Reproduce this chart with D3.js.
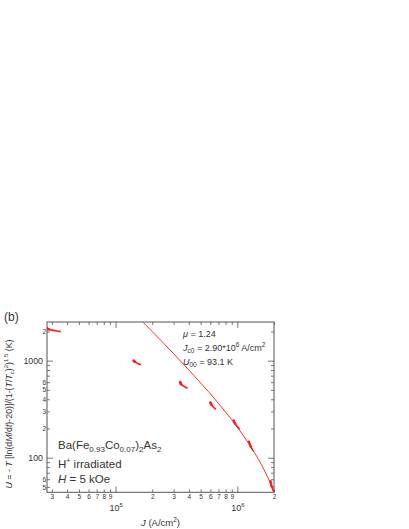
<!DOCTYPE html>
<html><head><meta charset="utf-8">
<script src="https://cdn.jsdelivr.net/npm/d3@7"></script>
<style>
body{margin:0;background:#fff}
svg{display:block}
text{font-family:"Liberation Sans",Arial,Helvetica,sans-serif;fill:#333}
</style>
</head><body>
<svg id="c" width="409" height="529"></svg>
<script>
// ---- data (J in A/cm^2, U in K), one short relaxation set per temperature ----
const set1 = [[27400,2150],[27700,2120],[28300,2100],[29500,2075],[31000,2050],[33000,2020],[35500,1990]];
const set2 = [[141000,1000],[142500,985],[144000,975],[147000,960],[151000,940],[156000,925],[162000,905]];
const set3 = [[340000,600],[342000,585],[345000,572],[350000,562],[358000,550],[370000,538],[390000,520]];
const set4 = [[600000,370],[606000,360],[614000,350],[625000,340],[638000,330],[652000,322],[664000,315]];
const set5 = [[933000,242],[945000,232],[960000,224],[975000,218],[995000,210],[1020000,203],[1045000,196]];
const set6 = [[1245000,146],[1265000,138],[1285000,131],[1305000,126],[1330000,121],[1360000,117]];
const set7 = [[1870000,57],[1890000,54],[1910000,51],[1930000,49],[1955000,47],[1985000,45]];
const sets = [set1,set2,set3,set4,set5,set6,set7];

// fit curve
const fitJ = [165000,170000,200000,250000,300000,400000,500000,600000,700000,800000,1000000,1200000,1400000,1600000,1800000,2000000];
const fitU = [2553,2455,1993,1493,1176,800,589,455,362,296,206,149,110,82,60.5,44];

// ticks and labels
const xMinorTicks  = [3e4,4e4,5e4,6e4,7e4,8e4,9e4,2e5,3e5,4e5,5e5,6e5,7e5,8e5,9e5,2e6];
const xMinorLabels = ["3","4","5","6","7","8","9","2","3","4","5","6","7","8","9","2"];
const xMajorTicks  = [1e5,1e6];
const xMajorExp    = ["5","6"];
const yMinorTicks  = [50,60,70,80,90,200,300,400,500,600,700,800,900,2000];
const yMinorLabels = ["5","6","","","","2","3","4","5","6","","","","2"];
const yMajorTicks  = [100,1000];
const yMajorLabels = ["100","1000"];

// ---- layout ----
const L = 47, R = 274, T = 322, B = 492.3;
const svg = d3.select("#c");
const x = d3.scaleLog().domain([27350, 2e6]).range([L, R]);
const y = d3.scaleLog().domain([44, 2500]).range([B, T]);
const axisCol = "#555";

svg.append("defs").append("clipPath").attr("id","clip")
  .append("rect").attr("x",L).attr("y",T).attr("width",R-L).attr("height",B-T);

function styleAxis(g, fs){
  g.select(".domain").remove();
  g.selectAll(".tick line").attr("stroke", axisCol).attr("stroke-width",0.8);
  g.selectAll("text").attr("font-size", fs).attr("font-family","Liberation Sans, Arial, sans-serif").attr("fill","#333");
}

// bottom
const gb = svg.append("g").attr("transform",`translate(0,${B})`)
  .call(d3.axisBottom(x).tickValues(xMinorTicks).tickSizeInner(-3).tickSizeOuter(0).tickPadding(2)
    .tickFormat((d,i)=>xMinorLabels[i]));
styleAxis(gb, 6.5);
const gb2 = svg.append("g").attr("transform",`translate(0,${B})`)
  .call(d3.axisBottom(x).tickValues(xMajorTicks).tickSizeInner(-6).tickSizeOuter(0).tickFormat(""));
styleAxis(gb2, 6.5);
xMajorTicks.forEach((v,i)=>{
  const t = svg.append("text").attr("x", x(v)-6).attr("y", 511).attr("font-size",9);
  t.append("tspan").text("10");
  t.append("tspan").attr("dy",-4).attr("font-size",6).text(xMajorExp[i]);
});

// top
const gt = svg.append("g").attr("transform",`translate(0,${T})`)
  .call(d3.axisTop(x).tickValues(xMinorTicks).tickSizeInner(-3).tickSizeOuter(0).tickFormat(""));
styleAxis(gt, 6);
const gt2 = svg.append("g").attr("transform",`translate(0,${T})`)
  .call(d3.axisTop(x).tickValues(xMajorTicks).tickSizeInner(-6).tickSizeOuter(0).tickFormat(""));
styleAxis(gt2, 6);

// left
const gl = svg.append("g").attr("transform",`translate(${L},0)`)
  .call(d3.axisLeft(y).tickValues(yMinorTicks).tickSizeInner(-3).tickSizeOuter(0).tickPadding(1)
    .tickFormat((d,i)=>yMinorLabels[i]));
styleAxis(gl, 6.5);
const gl2 = svg.append("g").attr("transform",`translate(${L},0)`)
  .call(d3.axisLeft(y).tickValues(yMajorTicks).tickSizeInner(-6).tickSizeOuter(0).tickPadding(4)
    .tickFormat((d,i)=>yMajorLabels[i]));
styleAxis(gl2, 8.8);

// right
const gr = svg.append("g").attr("transform",`translate(${R},0)`)
  .call(d3.axisRight(y).tickValues(yMinorTicks).tickSizeInner(-3).tickSizeOuter(0).tickFormat(""));
styleAxis(gr, 6);
const gr2 = svg.append("g").attr("transform",`translate(${R},0)`)
  .call(d3.axisRight(y).tickValues(yMajorTicks).tickSizeInner(-6).tickSizeOuter(0).tickFormat(""));
styleAxis(gr2, 6);

// frame
svg.append("rect").attr("x",L).attr("y",T).attr("width",R-L).attr("height",B-T)
  .attr("fill","none").attr("stroke",axisCol).attr("stroke-width",1);

// data
const plot = svg.append("g").attr("clip-path","url(#clip)");
const fitPts = fitJ.map((j,i)=>[j,fitU[i]]);
plot.append("path").datum(fitPts)
  .attr("d", d3.line().x(d=>x(d[0])).y(d=>y(d[1])).curve(d3.curveMonotoneX))
  .attr("fill","none").attr("stroke","#ff3030").attr("stroke-width",1);

const red = "#ff1a1a";
sets.forEach(s=>{
  plot.append("path").datum(s)
    .attr("d", d3.line().x(d=>x(d[0])).y(d=>y(d[1])))
    .attr("fill","none").attr("stroke",red).attr("stroke-width",1.6);
  plot.selectAll(null).data(s.slice(0,3)).enter().append("circle")
    .attr("cx",d=>x(d[0])).attr("cy",d=>y(d[1])).attr("r",1.3).attr("fill",red);
});

// labels
svg.append("text").attr("x",4).attr("y",321).attr("font-size",12).text("(b)");

// y title
const yt = svg.append("text").attr("transform","translate(11.5,414) rotate(-90)")
  .attr("text-anchor","middle").attr("font-size",8.8);
[["U","i"],[" = - ",""],["T","i"],[" [ln(d",""],["M","i"],["/d",""],["t","i"],[")-20)]/(1-(",""],["T","i"],["/",""],["T","i"],["c","sub"],[")",""],["2","sup"],[")",""],["1.5","sup"],[" (K)",""]]
.forEach(([s,k])=>{
  const ts = yt.append("tspan").text(s);
  if(k==="i") ts.attr("font-style","italic");
  if(k==="sub") ts.attr("font-size",6).attr("dy",2);
  if(k==="sup") ts.attr("font-size",6).attr("dy",-4);
  if(k==="" ) ts.attr("dy", 0);
});
// restore baselines after sub/sup
yt.selectAll("tspan").each(function(d,i,nodes){
  const prev = i>0 ? d3.select(nodes[i-1]) : null;
});
// manual dy fix: compute cumulative offsets
(function(){
  let cur = 0;
  yt.selectAll("tspan").each(function(){
    const el = d3.select(this);
    const t = el.text();
    let target = 0;
    const fs = el.attr("font-size");
    if(fs==="6"){ target = (["c"].includes(t)) ? 2 : -4; }
    el.attr("dy", target - cur);
    cur = target;
  });
})();

// x title
const xt = svg.append("text").attr("x",141).attr("y",526).attr("font-size",9.5);
xt.append("tspan").attr("font-style","italic").text("J");
xt.append("tspan").text(" (A/cm");
xt.append("tspan").attr("font-size",6.5).attr("dy",-4).text("2");
xt.append("tspan").attr("dy",4).text(")");

// fit parameters
const px = 183;
const l1 = svg.append("text").attr("x",px).attr("y",336.5).attr("font-size",9);
l1.append("tspan").attr("font-style","italic").text("μ");
l1.append("tspan").text(" = 1.24");
const l2 = svg.append("text").attr("x",px).attr("y",350.5).attr("font-size",9);
l2.append("tspan").attr("font-style","italic").text("J");
l2.append("tspan").attr("font-size",6.5).attr("dy",2).text("c0");
l2.append("tspan").attr("dy",-2).text(" = 2.90*10");
l2.append("tspan").attr("font-size",6.5).attr("dy",-4).text("6");
l2.append("tspan").attr("dy",4).text(" A/cm");
l2.append("tspan").attr("font-size",6.5).attr("dy",-4).text("2");
const l3 = svg.append("text").attr("x",px).attr("y",365).attr("font-size",9);
l3.append("tspan").attr("font-style","italic").text("U");
l3.append("tspan").attr("font-size",6.5).attr("dy",2).text("00");
l3.append("tspan").attr("dy",-2).text(" = 93.1 K");

// sample labels
const s1 = svg.append("text").attr("x",58).attr("y",449).attr("font-size",11.5);
s1.append("tspan").text("Ba(Fe");
s1.append("tspan").attr("font-size",8).attr("dy",3).text("0.93");
s1.append("tspan").attr("dy",-3).text("Co");
s1.append("tspan").attr("font-size",8).attr("dy",3).text("0.07");
s1.append("tspan").attr("dy",-3).text(")");
s1.append("tspan").attr("font-size",8).attr("dy",3).text("2");
s1.append("tspan").attr("dy",-3).text("As");
s1.append("tspan").attr("font-size",8).attr("dy",3).text("2");
const s2 = svg.append("text").attr("x",58).attr("y",468).attr("font-size",11.5);
s2.append("tspan").text("H");
s2.append("tspan").attr("font-size",7).attr("dy",-5).text("+");
s2.append("tspan").attr("dy",5).text(" irradiated");
const s3 = svg.append("text").attr("x",58).attr("y",482.5).attr("font-size",11.5);
s3.append("tspan").attr("font-style","italic").text("H");
s3.append("tspan").text(" = 5 kOe");
</script>
</body></html>
